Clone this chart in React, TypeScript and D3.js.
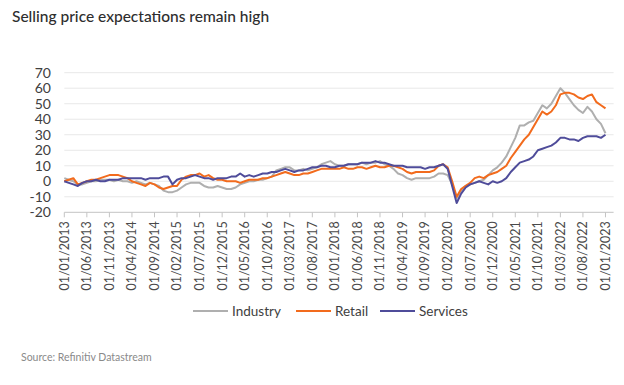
import React from "react";
import * as d3 from "d3";

// monthly readings, Jan 2013 .. Jan 2023
const industry = [
  2, 1, 0, -2, -2, -1, 0, 0, 1, 1, 1, 0,
  1, 0, 0, -1, 0, -1, -2, -1, -2, -3, -6, -7,
  -7, -6, -4, -2, -1, -1, -1, -3, -4, -4, -3, -4,
  -5, -5, -4, -2, -1, 0, 0, 1, 1, 2, 3, 7,
  8, 9, 9, 7, 7, 8, 7, 8, 9, 11, 12, 13,
  11, 10, 10, 11, 11, 11, 12, 11, 12, 12, 13, 11,
  10, 8, 5, 4, 2, 1, 2, 2, 2, 2, 3, 5,
  5, 4, -2, -11, -6, -3, -2, -1, 0, 1, 4, 7,
  9, 12, 16, 22, 28, 36, 36, 38, 39, 44, 49, 47,
  50, 55, 60, 57, 53, 49, 46, 44, 48, 45, 40, 37,
  31,
];
const retail = [
  0, 1, 2, -2, -1, 0, 1, 1, 2, 3, 4, 4,
  4, 3, 2, 0, -1, -2, -3, -1, -2, -4, -5, -4,
  -3, -3, 1, 3, 4, 4, 5, 3, 4, 2, 1, 1,
  0, 0, 0, -1, 0, 1, 1, 1, 2, 2, 3, 4,
  5, 6, 5, 4, 4, 5, 5, 6, 7, 8, 8, 8,
  8, 8, 9, 8, 8, 9, 9, 8, 9, 10, 9, 9,
  10, 10, 9, 8, 6, 5, 6, 6, 6, 6, 7, 10,
  11, 9, 0, -10, -5, -3, -1, 2, 3, 2, 4, 5,
  6, 8, 10, 15, 19, 23, 27, 30, 35, 40, 45, 43,
  45, 49, 56, 57, 57, 56, 54, 53, 55, 56, 51, 49,
  47,
];
const services = [
  0, -1, -2, -3, -1, 0, 0, 1, 0, 0, 1, 1,
  1, 2, 2, 2, 2, 2, 1, 2, 2, 2, 3, 3,
  -2, 1, 2, 2, 3, 4, 3, 2, 2, 1, 2, 2,
  2, 3, 3, 5, 3, 4, 3, 4, 5, 5, 6, 6,
  7, 8, 7, 6, 7, 7, 8, 9, 9, 10, 10, 9,
  9, 10, 10, 11, 11, 11, 12, 12, 12, 13, 12, 12,
  11, 10, 10, 10, 9, 9, 9, 9, 8, 9, 9, 10,
  11, 8, -3, -14, -8, -4, -2, -1, 0, -1, -2, 0,
  -1, 0, 2, 6, 9, 12, 13, 14, 16, 20, 21, 22,
  23, 25, 28, 28, 27, 27, 26, 28, 29, 29, 29, 28,
  30,
];

const tickLabels = [
  "01/01/2013", "01/06/2013", "01/11/2013", "01/04/2014", "01/09/2014",
  "01/02/2015", "01/07/2015", "01/12/2015", "01/05/2016", "01/10/2016",
  "01/03/2017", "01/08/2017", "01/01/2018", "01/06/2018", "01/11/2018",
  "01/04/2019", "01/09/2019", "01/02/2020", "01/07/2020", "01/12/2020",
  "01/05/2021", "01/10/2021", "01/03/2022", "01/08/2022", "01/01/2023",
];
const yTicks = [70, 60, 50, 40, 30, 20, 10, 0, -10, -20];

const series = [
  { name: "Industry", values: industry, color: "#afafaf" },
  { name: "Retail", values: retail, color: "#f26b1d" },
  { name: "Services", values: services, color: "#4f4c9a" },
];

const font = "Lato, 'Open Sans', sans-serif";

export default function App() {
  const x = d3.scaleLinear().domain([0, 121.8]).range([64.3, 613.6]);
  const y = d3.scaleLinear().domain([-20, 70]).range([212.3, 72.7]);

  const line = d3
    .line<number>()
    .x((_, i) => x(i))
    .y((d) => y(d));

  const legendX = [193, 296, 380];

  return (
    <svg
      width={624}
      height={385}
      style={{ position: "absolute", left: 0, top: 0, background: "#fff" }}
      fontFamily={font}
    >
      <text x={12} y={22} fontSize={15.5} fontWeight={500} fill="#2e2e2e">
        Selling price expectations remain high
      </text>

      {/* grid */}
      {yTicks.map((t) => (
        <line
          key={t}
          x1={x(0)}
          x2={x(121.8)}
          y1={y(t)}
          y2={y(t)}
          stroke={t === -20 ? "#c4c4c4" : "#e8e8e8"}
          strokeWidth={1}
        />
      ))}
      {yTicks.map((t) => (
        <text
          key={t}
          x={51}
          y={y(t)}
          dy="0.35em"
          textAnchor="end"
          fontSize={14}
          fill="#404040"
        >
          {t}
        </text>
      ))}

      {/* x ticks */}
      {tickLabels.map((lab, i) => (
        <g key={lab} transform={`translate(${x(i * 5)},${y(-20)})`}>
          <line y2={5} stroke="#c4c4c4" />
          <text
            transform="rotate(-90)"
            x={-9}
            dy="0.35em"
            textAnchor="end"
            fontSize={12.5}
            fill="#4a4a4a"
          >
            {lab}
          </text>
        </g>
      ))}

      {series.map((s) => (
        <path
          key={s.name}
          d={line(s.values) || ""}
          fill="none"
          stroke={s.color}
          strokeWidth={2}
          strokeLinejoin="round"
        />
      ))}

      {/* legend */}
      {series.map((s, i) => (
        <g key={s.name} transform={`translate(${legendX[i]},311)`}>
          <line x1={0} x2={35} stroke={s.color} strokeWidth={2} />
          <text x={39} dy="0.35em" fontSize={13.5} fill="#404040">
            {s.name}
          </text>
        </g>
      ))}

      <text x={21} y={361} fontSize={10.5} fill="#8a8a8a">
        Source: Refinitiv Datastream
      </text>
    </svg>
  );
}
